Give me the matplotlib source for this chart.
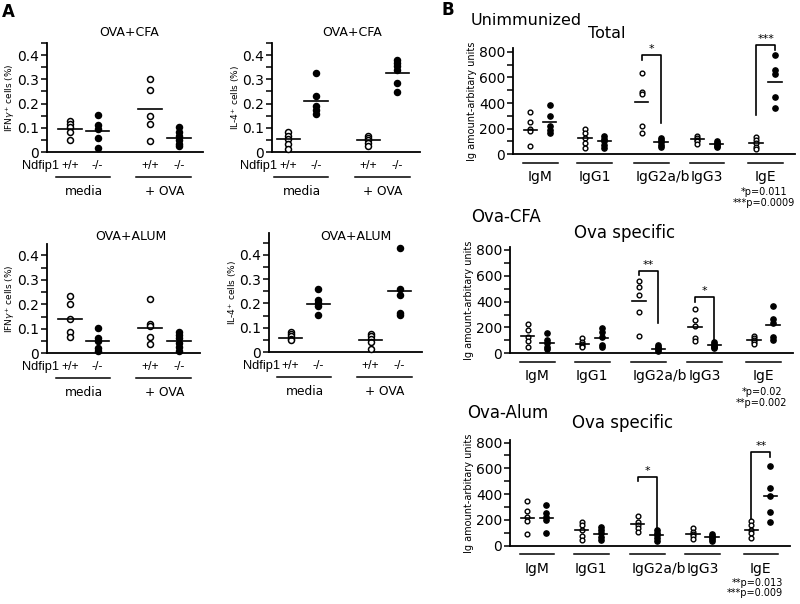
import matplotlib
matplotlib.use("Agg")
import matplotlib.pyplot as plt
import matplotlib.transforms as mtransforms
from matplotlib.ticker import MultipleLocator, FuncFormatter

plt.rcParams['font.family'] = ['DejaVu Sans']
NARROW = ['Liberation Sans', 'DejaVu Sans']

# ---------- panel A : % of cytokine+ cells ----------
genotypes = ['+/+', '-/-', '+/+', '-/-']
treatments = ['media', '+ OVA']

ifng_cfa = [[0.127, 0.116, 0.103, 0.082, 0.048],
            [0.151, 0.110, 0.096, 0.059, 0.018],
            [0.300, 0.255, 0.150, 0.115, 0.045],
            [0.103, 0.082, 0.064, 0.048, 0.034, 0.023]]
ifng_cfa_mean = [0.095, 0.086, 0.179, 0.059]

il4_cfa = [[0.084, 0.068, 0.052, 0.032, 0.011],
           [0.326, 0.233, 0.189, 0.173, 0.155],
           [0.066, 0.058, 0.048, 0.038, 0.025],
           [0.381, 0.367, 0.353, 0.340, 0.285, 0.248]]
il4_cfa_mean = [0.053, 0.210, 0.049, 0.325]

ifng_alum = [[0.235, 0.200, 0.140, 0.085, 0.065],
             [0.104, 0.063, 0.049, 0.021, 0.011],
             [0.220, 0.120, 0.110, 0.065, 0.040],
             [0.088, 0.076, 0.063, 0.042, 0.025, 0.011]]
ifng_alum_mean = [0.139, 0.051, 0.104, 0.051]

il4_alum = [[0.082, 0.075, 0.065, 0.055, 0.048],
            [0.260, 0.215, 0.203, 0.188, 0.151],
            [0.075, 0.065, 0.055, 0.040, 0.012],
            [0.430, 0.260, 0.233, 0.160, 0.151]]
il4_alum_mean = [0.058, 0.197, 0.048, 0.253]

# ---------- panel B : Ig amount (arbitrary units) ----------
isotypes = ['IgM', 'IgG1', 'IgG2a/b', 'IgG3', 'IgE']

total_wt = [[330, 250, 200, 185, 65], [195, 165, 130, 90, 50],
            [636, 486, 470, 221, 164], [145, 130, 115, 100, 80],
            [138, 112, 86, 60, 39]]
total_ko = [[385, 300, 220, 190, 165], [145, 120, 100, 75, 50],
            [130, 115, 95, 75, 55], [100, 90, 80, 65, 55],
            [779, 657, 626, 444, 358]]
total_wt_mean = [190, 130, 405, 117, 91]
total_ko_mean = [252, 101, 96, 78, 566]
# (isotype, bracket top, left leg end, right leg end, stars)
total_sig = [(2, 779, 740, 241, '*'), (4, 857, 306, 813, '***')]
total_p = ['*p=0.011', '***p=0.0009']

cfa_wt = [[224, 181, 129, 95, 52], [120, 90, 70, 55, 45],
          [560, 510, 450, 320, 135], [341, 258, 212, 116, 98],
          [135, 115, 100, 85, 70]]
cfa_ko = [[155, 103, 77, 52, 31], [199, 168, 129, 65, 46],
          [65, 50, 40, 30, 20], [90, 75, 60, 50, 40],
          [366, 263, 232, 129, 103]]
cfa_wt_mean = [137, 75, 408, 206, 103]
cfa_ko_mean = [80, 116, 31, 67, 219]
cfa_sig = [(2, 637, 606, 232, '**'), (3, 433, 400, 77, '*')]
cfa_p = ['*p=0.02', '**p=0.002']

alum_wt = [[345, 270, 220, 195, 90], [186, 160, 121, 75, 44],
           [230, 186, 160, 134, 108], [140, 110, 90, 75, 50],
           [195, 160, 125, 95, 60]]
alum_ko = [[315, 250, 224, 199, 95], [147, 121, 95, 70, 44],
           [125, 100, 80, 60, 40], [90, 75, 65, 55, 40],
           [617, 444, 384, 263, 186]]
alum_wt_mean = [217, 121, 165, 90, 121]
alum_ko_mean = [212, 90, 83, 70, 384]
alum_sig = [(2, 534, 503, 121, '*'), (4, 728, 204, 689, '**')]
alum_p = ['**p=0.013', '***p=0.009']

W, H = 800, 604
fig = plt.figure(figsize=(W / 100, H / 100), dpi=100)

pos_a = [1, 2, 3.9, 4.95]
cat_b = [0.48, 1.45, 2.45, 3.44, 4.48]
dx_b = 0.17


def add_ax(l, t, w, h):
    return fig.add_axes([l / W, 1 - (t + h) / H, w / W, h / H])


def ftext(x, y, s, **kw):
    fig.text(x / W, 1 - y / H, s, **kw)


def below(ax, pts):
    tr = mtransforms.blended_transform_factory(ax.transData, ax.transAxes)
    return tr + mtransforms.ScaledTranslation(0, -pts / 72, fig.dpi_scale_trans)


def style(ax, major, minor, fs):
    for s in ['top', 'right']:
        ax.spines[s].set_visible(False)
    for s in ['left', 'bottom']:
        ax.spines[s].set_linewidth(1.3)
    ax.yaxis.set_major_locator(MultipleLocator(major))
    ax.yaxis.set_minor_locator(MultipleLocator(minor))
    ax.yaxis.set_major_formatter(FuncFormatter(lambda v, p: f'{v:g}'))
    ax.tick_params(axis='y', which='both', direction='out', length=4,
                   width=1.1, pad=1.5, labelsize=fs)
    ax.tick_params(axis='x', bottom=False, labelbottom=False)


def panel_a(rect, vals, means, xlim, ylim, ylabel):
    ax = add_ax(*rect)
    style(ax, 0.1, 0.05, 10)
    ax.set_xlim(*xlim)
    ax.set_ylim(0, ylim)
    for i, x in enumerate(pos_a):
        filled = i % 2 == 1
        ax.plot([x] * len(vals[i]), vals[i], 'o', ms=4.3,
                mfc='black' if filled else 'white', mec='black', mew=1.1,
                clip_on=False, zorder=3)
        ax.plot([x - 0.42, x + 0.42], [means[i]] * 2, color='black', lw=1.2,
                zorder=4)
    ax.set_ylabel(ylabel, fontsize=6.5)
    ax.yaxis.set_label_coords(-30 / rect[2], 0.5)
    # genotype / treatment labels under the axis
    ax.text(pos_a[0] - 0.4, 0, 'Ndfip1', transform=below(ax, 10),
            ha='right', va='center', fontsize=9.2, family=NARROW)
    for x, g in zip(pos_a, genotypes):
        ax.text(x, 0, g, transform=below(ax, 10), ha='center', va='center',
                fontsize=8.8, family=NARROW)
    for k, t in enumerate(treatments):
        x0, x1 = pos_a[2 * k], pos_a[2 * k + 1]
        ax.plot([x0 - 0.5, x1 + 0.45], [0, 0], color='black', lw=1.1,
                transform=below(ax, 18), clip_on=False)
        ax.text((x0 + x1) / 2, 0, t, transform=below(ax, 28.5),
                ha='center', va='center', fontsize=8.8)
    return ax


def panel_b(rect, wt, ko, wt_mean, ko_mean, sig, ylim):
    ax = add_ax(*rect)
    style(ax, 200, 100, 10)
    ax.set_xlim(0, 5)
    ax.set_ylim(0, ylim)
    for i, c in enumerate(cat_b):
        xo, xf = c - dx_b, c + dx_b
        ax.plot([xo] * len(wt[i]), wt[i], 'o', ms=3.4, mfc='white',
                mec='black', mew=1.0, clip_on=False, zorder=3)
        ax.plot([xf] * len(ko[i]), ko[i], 'o', ms=3.8, mfc='black',
                mec='black', clip_on=False, zorder=3)
        ax.plot([xo - 0.12, xo + 0.12], [wt_mean[i]] * 2, color='black',
                lw=1.2, zorder=4)
        ax.plot([xf - 0.12, xf + 0.12], [ko_mean[i]] * 2, color='black',
                lw=1.2, zorder=4)
        ax.plot([c - 0.31, c + 0.31], [0, 0], color='black', lw=1.1,
                transform=below(ax, 6), clip_on=False)
        lx = c + (0.2 if isotypes[i] == 'IgG2a/b' else 0)
        ax.text(lx, 0, isotypes[i], transform=below(ax, 16.5), ha='center',
                va='center', fontsize=10)
    for i, top, yl, yr, stars in sig:
        xo, xf = cat_b[i] - dx_b, cat_b[i] + dx_b
        ax.plot([xo, xo, xf, xf], [yl, top, top, yr], color='black', lw=1.2,
                clip_on=False)
        ax.text((xo + xf) / 2, top + 8, stars, ha='center', va='bottom',
                fontsize=8)
    ax.set_ylabel('Ig amount-arbitary units', fontsize=7)
    ax.yaxis.set_label_coords(-36 / rect[2], 0.5)
    return ax


panel_a((47, 43, 156, 109), ifng_cfa, ifng_cfa_mean, (0.167, 5.82), 0.45,
        'IFN$\\gamma^{+}$ cells (%)')
panel_a((272, 43, 148, 109), il4_cfa, il4_cfa_mean, (0.41, 5.77), 0.45,
        'IL-4$^{+}$ cells (%)')
panel_a((47, 244.3, 153, 109), ifng_alum, ifng_alum_mean, (0.167, 5.71),
        0.445, 'IFN$\\gamma^{+}$ cells (%)')
panel_a((269, 233, 153, 119), il4_alum, il4_alum_mean, (0.214, 5.76), 0.49,
        'IL-4$^{+}$ cells (%)')

panel_b((513, 48, 282, 106.3), total_wt, total_ko, total_wt_mean,
        total_ko_mean, total_sig, 830)
panel_b((510, 247, 283, 106.3), cfa_wt, cfa_ko, cfa_wt_mean, cfa_ko_mean,
        cfa_sig, 823)
panel_b((510, 440, 280, 105.7), alum_wt, alum_ko, alum_wt_mean, alum_ko_mean,
        alum_sig, 820)

# panel letters and titles
ftext(8, 12, 'A', fontsize=12, fontweight='bold', ha='center', va='center')
ftext(448, 10, 'B', fontsize=12, fontweight='bold', ha='center', va='center')
ftext(129, 33, 'OVA+CFA', fontsize=9, ha='center', va='center')
ftext(352, 33, 'OVA+CFA', fontsize=9, ha='center', va='center')
ftext(131, 236.7, 'OVA+ALUM', fontsize=9, ha='center', va='center')
ftext(356, 236.7, 'OVA+ALUM', fontsize=9, ha='center', va='center')

ftext(526, 20.7, 'Unimmunized', fontsize=11.5, ha='center', va='center')
ftext(607, 33.3, 'Total', fontsize=11.5, ha='center', va='center')
ftext(506, 216.7, 'Ova-CFA', fontsize=12, ha='center', va='center')
ftext(625, 232.7, 'Ova specific', fontsize=12, ha='center', va='center')
ftext(508, 413.3, 'Ova-Alum', fontsize=12, ha='center', va='center')
ftext(623, 423.3, 'Ova specific', fontsize=12, ha='center', va='center')

for (x, y), s in zip([(787, 192.3), (795, 203.3)], total_p):
    ftext(x, y, s, fontsize=7, ha='right', va='center')
for (x, y), s in zip([(782, 391.7), (787, 403.3)], cfa_p):
    ftext(x, y, s, fontsize=7, ha='right', va='center')
for (x, y), s in zip([(783, 582.7), (783, 593.3)], alum_p):
    ftext(x, y, s, fontsize=7, ha='right', va='center')

fig.savefig('out.png', dpi=100)
